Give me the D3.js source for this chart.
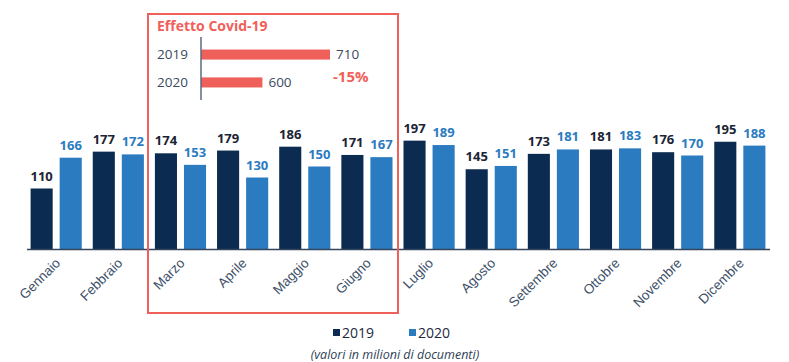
<!DOCTYPE html>
<html>
<head>
<meta charset="utf-8">
<script src="https://cdn.jsdelivr.net/npm/d3@7"></script>
<style>
  body { margin: 0; background: #fff; }
  svg { display: block; font-family: "Open Sans", "DejaVu Sans", sans-serif; }
</style>
</head>
<body>
<div id="chart-area"></div>
<script>
const WIDTH = 789
const HEIGHT = 362

// Data
const months = ["Gennaio", "Febbraio", "Marzo", "Aprile", "Maggio", "Giugno",
    "Luglio", "Agosto", "Settembre", "Ottobre", "Novembre", "Dicembre"]
const years = ["2019", "2020"]
const values2019 = [110, 177, 174, 179, 186, 171, 197, 145, 173, 181, 176, 195]
const values2020 = [166, 172, 153, 130, 150, 167, 189, 151, 181, 183, 170, 188]
const covidYears = ["2019", "2020"]
const covidTotals = [710, 600]
const covidDelta = "-15%"

const COLORS = { "2019": "#0b2b50", "2020": "#2b7bc0" }
const LABEL_COLORS = { "2019": "#1b2434", "2020": "#2b7bc0" }
const RED = "#f0605a"

const rows = months.map((m, i) => ({ month: m, "2019": values2019[i], "2020": values2020[i] }))

const svg = d3.select("#chart-area").append("svg")
    .attr("width", WIDTH)
    .attr("height", HEIGHT)

// Scales
const x = d3.scaleBand()
    .domain(months)
    .range([25, 771])
    .paddingInner(0.177)
    .paddingOuter(0.09)

const xSub = d3.scaleBand()
    .domain(years)
    .range([0, x.bandwidth()])
    .paddingInner(0.24)

const y = d3.scaleLinear()
    .domain([0, 200])
    .range([249, 139])

// Bars
const groups = svg.append("g").selectAll("g")
    .data(rows)
    .enter().append("g")
    .attr("transform", d => `translate(${x(d.month)}, 0)`)

groups.selectAll("rect")
    .data(d => years.map(k => ({ key: k, value: d[k] })))
    .enter().append("rect")
    .attr("x", d => xSub(d.key))
    .attr("y", d => y(d.value))
    .attr("width", xSub.bandwidth())
    .attr("height", d => y(0) - y(d.value))
    .attr("fill", d => COLORS[d.key])

groups.selectAll("text")
    .data(d => years.map(k => ({ key: k, value: d[k] })))
    .enter().append("text")
    .attr("x", d => xSub(d.key) + xSub.bandwidth() / 2)
    .attr("y", d => y(d.value) - 8)
    .attr("text-anchor", "middle")
    .attr("font-size", "13px")
    .attr("font-weight", "bold")
    .attr("fill", d => LABEL_COLORS[d.key])
    .text(d => d.value)

// X Axis
const xAxisCall = d3.axisBottom(x).tickSize(0).tickPadding(0)
const xAxis = svg.append("g")
    .attr("transform", `translate(0, ${y(0)})`)
    .call(xAxisCall)

xAxis.select(".domain").remove()
svg.append("line")
    .attr("x1", 27).attr("x2", 770)
    .attr("y1", y(0) + 0.5).attr("y2", y(0) + 0.5)
    .attr("stroke", "#34465c")
    .attr("stroke-width", 1.6)

xAxis.selectAll(".tick text")
    .attr("font-size", "13.5px")
    .attr("fill", "#3d5068")
    .attr("text-anchor", "end")
    .attr("dy", null)
    .attr("y", 0)
    .attr("transform", "translate(5, 15) rotate(-45)")

// Covid box
svg.append("rect")
    .attr("x", 148).attr("y", 14)
    .attr("width", 250).attr("height", 299)
    .attr("fill", "none")
    .attr("stroke", RED)
    .attr("stroke-width", 2)

svg.append("text")
    .attr("x", 157).attr("y", 31)
    .attr("font-size", "14px")
    .attr("font-weight", "bold")
    .attr("fill", RED)
    .text("Effetto Covid-19")

const cx = d3.scaleLinear()
    .domain([500, 710])
    .range([201, 330])

const cy = d3.scaleBand()
    .domain(covidYears)
    .range([37, 100])
    .paddingInner(0.64)
    .paddingOuter(0.45)

const covid = svg.append("g")

covid.selectAll("rect")
    .data(covidTotals)
    .enter().append("rect")
    .attr("x", cx(500))
    .attr("y", (d, i) => cy(covidYears[i]))
    .attr("width", d => cx(d) - cx(500))
    .attr("height", cy.bandwidth())
    .attr("fill", RED)

covid.selectAll(".val")
    .data(covidTotals)
    .enter().append("text")
    .attr("class", "val")
    .attr("x", d => cx(d) + 6)
    .attr("y", (d, i) => cy(covidYears[i]) + cy.bandwidth() / 2)
    .attr("dy", "0.35em")
    .attr("font-size", "13.5px")
    .attr("fill", "#3a4a60")
    .text(d => d)

covid.selectAll(".yr")
    .data(covidYears)
    .enter().append("text")
    .attr("class", "yr")
    .attr("x", 188)
    .attr("y", d => cy(d) + cy.bandwidth() / 2)
    .attr("dy", "0.35em")
    .attr("text-anchor", "end")
    .attr("font-size", "13.5px")
    .attr("fill", "#3a4a60")
    .text(d => d)

covid.append("line")
    .attr("x1", cx(500)).attr("x2", cx(500))
    .attr("y1", 37).attr("y2", 100)
    .attr("stroke", "#5a6b80")
    .attr("stroke-width", 1.5)

covid.append("text")
    .attr("x", 333).attr("y", 77)
    .attr("dy", "0.35em")
    .attr("font-size", "15px")
    .attr("font-weight", "bold")
    .attr("fill", RED)
    .text(covidDelta)

// Legend
const legendX = [333, 409]
const legend = svg.append("g").selectAll("g")
    .data(years)
    .enter().append("g")
    .attr("transform", (d, i) => `translate(${legendX[i]}, 333)`)

legend.append("rect")
    .attr("x", 0).attr("y", -4)
    .attr("width", 7).attr("height", 7)
    .attr("fill", d => COLORS[d])

legend.append("text")
    .attr("x", 9)
    .attr("y", 0)
    .attr("dy", "0.35em")
    .attr("font-size", "14px")
    .attr("fill", "#1b2a40")
    .text(d => d)

svg.append("text")
    .attr("x", 395).attr("y", 355)
    .attr("dy", "0.35em")
    .attr("text-anchor", "middle")
    .attr("font-size", "12.5px")
    .attr("font-style", "italic")
    .attr("fill", "#2d3e55")
    .text("(valori in milioni di documenti)")
</script>
</body>
</html>
